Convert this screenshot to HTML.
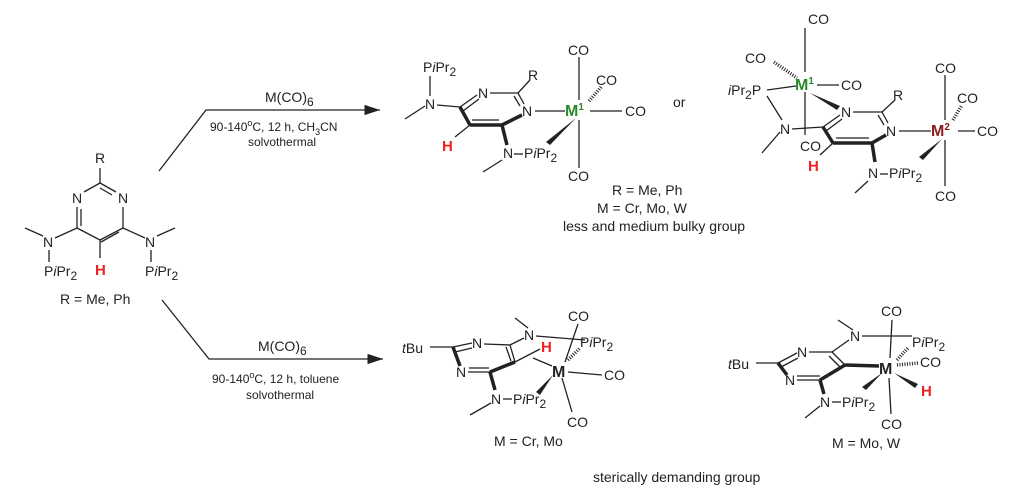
<!DOCTYPE html>
<html><head><meta charset="utf-8"><style>
html,body{margin:0;padding:0;background:#fff;}
svg{display:block;font-family:"Liberation Sans",sans-serif;}
text{font-size:14px;fill:#222;}
.s{font-size:12px;}
.g{fill:#2a8a2a;font-weight:bold;font-size:16px;}
.r{fill:#8b1a1a;font-weight:bold;font-size:16px;}
.h{fill:#ee2222;font-weight:bold;font-size:15px;}
.m{font-weight:bold;font-size:16px;}
line,polyline{stroke:#222;stroke-width:1.3;fill:none;}
.b{stroke-width:3.5;}
.d{stroke-dasharray:1,1.5;stroke-width:3.5;}
</style></head><body>
<svg width="1024" height="501" viewBox="0 0 1024 501">
<defs><marker id="ar" markerWidth="12" markerHeight="8" refX="12" refY="4" orient="auto"><path d="M0,0 L12,4 L0,8 Z" fill="#222"/></marker></defs>

<!-- starting material -->
<text x="95" y="163">R</text>
<line x1="100" y1="168" x2="100" y2="183"/>
<line x1="100" y1="183" x2="84" y2="192"/><line x1="100" y1="183" x2="116" y2="192"/><line x1="100" y1="188" x2="112" y2="195"/>
<text x="72" y="203">N</text><text x="118" y="203">N</text>
<line x1="77" y1="207" x2="77" y2="228"/><line x1="81" y1="209" x2="81" y2="226"/>
<line x1="123" y1="207" x2="123" y2="228"/>
<line x1="77" y1="228" x2="100" y2="240"/><line x1="123" y1="228" x2="100" y2="240"/><line x1="119" y1="232" x2="101" y2="242"/>
<line x1="77" y1="228" x2="55" y2="238"/><line x1="123" y1="228" x2="145" y2="238"/>
<text x="43" y="247">N</text><text x="145" y="247">N</text>
<line x1="43" y1="236" x2="25" y2="228"/><line x1="157" y1="236" x2="175" y2="228"/>
<line x1="49" y1="250" x2="49" y2="262"/><line x1="151" y1="250" x2="151" y2="262"/>
<text x="44" y="276">P<tspan font-style="italic">i</tspan>Pr<tspan class="s" dy="4">2</tspan></text>
<text x="145" y="276">P<tspan font-style="italic">i</tspan>Pr<tspan class="s" dy="4">2</tspan></text>
<line x1="100" y1="240" x2="100" y2="258"/>
<text class="h" x="95" y="275">H</text>
<text x="60" y="304">R = Me, Ph</text>

<!-- arrows -->
<polyline points="159,171 206,110 380,110" marker-end="url(#ar)"/>
<text x="265" y="102">M(CO)<tspan class="s" dy="4">6</tspan></text>
<text x="210" y="131" class="s">90-140<tspan dy="-5" font-size="9">o</tspan><tspan dy="5">C, 12 h, CH</tspan><tspan dy="4" font-size="9">3</tspan><tspan dy="-4">CN</tspan></text>
<text x="248" y="146" class="s">solvothermal</text>
<polyline points="162,300 209,359 383,359" marker-end="url(#ar)"/>
<text x="258" y="351">M(CO)<tspan class="s" dy="4">6</tspan></text>
<text x="212" y="383" class="s">90-140<tspan dy="-5" font-size="9">o</tspan><tspan dy="5">C, 12 h, toluene</tspan></text>
<text x="246" y="399" class="s">solvothermal</text>

<!-- top product 1 -->
<text x="423" y="72">P<tspan font-style="italic">i</tspan>Pr<tspan class="s" dy="4">2</tspan></text>
<line x1="430" y1="76" x2="430" y2="96"/>
<text x="425" y="109">N</text>
<line x1="425" y1="106" x2="405" y2="119"/>
<line x1="437" y1="105" x2="460" y2="107"/>
<line x1="460" y1="107" x2="477" y2="95"/><line x1="463" y1="111" x2="479" y2="99"/>
<text x="478" y="98">N</text>
<line x1="490" y1="93" x2="518" y2="93"/>
<line x1="518" y1="93" x2="530" y2="80"/><text x="528" y="80">R</text>
<line x1="518" y1="93" x2="524" y2="104"/><line x1="514" y1="96" x2="520" y2="106"/>
<text x="522" y="116">N</text>
<line x1="535" y1="111" x2="565" y2="111"/>
<line x1="522" y1="115" x2="502" y2="125" class="b"/>
<line x1="502" y1="125" x2="470" y2="125" class="b"/><line x1="499" y1="120" x2="472" y2="120"/>
<line x1="460" y1="107" x2="470" y2="125" class="b"/>
<line x1="470" y1="125" x2="455" y2="137"/>
<text class="h" x="442" y="151">H</text>
<line x1="502" y1="125" x2="507" y2="145" class="b"/>
<text x="503" y="158">N</text>
<line x1="502" y1="160" x2="483" y2="172"/>
<line x1="514" y1="154" x2="523" y2="154"/>
<text x="524" y="158">P<tspan font-style="italic">i</tspan>Pr<tspan class="s" dy="4">2</tspan></text>
<text class="g" x="565" y="116">M<tspan font-size="10" dy="-6">1</tspan></text>
<line x1="579" y1="57" x2="579" y2="100"/><line x1="579" y1="120" x2="579" y2="168"/>
<text x="568" y="55">CO</text>
<line x1="589" y1="101" x2="602" y2="86" class="d"/>
<text x="596" y="85">CO</text>
<line x1="590" y1="111" x2="622" y2="111"/><text x="625" y="116">CO</text>
<polygon points="576,118 546,142 550,145" fill="#222"/>
<text x="568" y="181">CO</text>
<text x="673" y="107">or</text>
<text x="612" y="195">R = Me, Ph</text>
<text x="597" y="213">M = Cr, Mo, W</text>
<text x="563" y="231">less and medium bulky group</text>

<!-- top product 2 -->
<text x="808" y="24">CO</text>
<line x1="805" y1="28" x2="805" y2="72"/>
<line x1="805" y1="92" x2="805" y2="135"/>
<text x="745" y="63">CO</text>
<line x1="774" y1="62" x2="797" y2="78" class="d"/>
<text class="g" x="795" y="90">M<tspan font-size="10" dy="-6">1</tspan></text>
<line x1="817" y1="85" x2="839" y2="85"/><text x="841" y="90">CO</text>
<text x="728" y="95"><tspan font-style="italic">i</tspan>Pr<tspan class="s" dy="4">2</tspan><tspan dy="-4">P</tspan></text>
<line x1="767" y1="90" x2="796" y2="86"/>
<line x1="767" y1="96" x2="782" y2="120"/>
<polygon points="810,93 840,106 837,110" fill="#222"/>
<text x="780" y="134">N</text>
<line x1="780" y1="132" x2="762" y2="153"/>
<line x1="792" y1="129" x2="823" y2="127"/>
<text x="800" y="151">CO</text>
<line x1="823" y1="127" x2="840" y2="115"/><line x1="826" y1="131" x2="842" y2="119"/>
<text x="841" y="117">N</text>
<line x1="853" y1="112" x2="882" y2="112"/>
<line x1="882" y1="112" x2="895" y2="100"/><text x="893" y="100">R</text>
<line x1="882" y1="112" x2="888" y2="123"/><line x1="878" y1="115" x2="884" y2="125"/>
<text x="886" y="136">N</text>
<line x1="899" y1="131" x2="931" y2="131"/>
<line x1="886" y1="135" x2="872" y2="143" class="b"/>
<line x1="872" y1="143" x2="833" y2="143" class="b"/><line x1="869" y1="138" x2="836" y2="138"/>
<line x1="823" y1="127" x2="833" y2="143" class="b"/>
<line x1="833" y1="143" x2="820" y2="155"/>
<text class="h" x="808" y="171">H</text>
<line x1="872" y1="143" x2="875" y2="162" class="b"/>
<text x="868" y="178">N</text>
<line x1="868" y1="181" x2="855" y2="193"/>
<line x1="880" y1="174" x2="888" y2="174"/>
<text x="889" y="178">P<tspan font-style="italic">i</tspan>Pr<tspan class="s" dy="4">2</tspan></text>
<text class="r" x="931" y="136">M<tspan font-size="10" dy="-6">2</tspan></text>
<line x1="945" y1="75" x2="945" y2="120"/><line x1="945" y1="140" x2="945" y2="186"/>
<text x="935" y="73">CO</text>
<line x1="953" y1="120" x2="962" y2="105" class="d"/>
<text x="957" y="103">CO</text>
<line x1="958" y1="131" x2="975" y2="131"/><text x="977" y="136">CO</text>
<polygon points="942,139 919,157 923,160" fill="#222"/>
<text x="935" y="201">CO</text>

<!-- bottom product 1 -->
<text x="402" y="353"><tspan font-style="italic">t</tspan>Bu</text>
<line x1="430" y1="347" x2="453" y2="347"/>
<line x1="453" y1="347" x2="472" y2="343"/><line x1="455" y1="352" x2="472" y2="348"/>
<text x="472" y="348">N</text>
<line x1="484" y1="344" x2="510" y2="345"/>
<line x1="453" y1="347" x2="460" y2="366" class="b"/>
<text x="456" y="377">N</text>
<line x1="468" y1="372" x2="490" y2="372"/><line x1="469" y1="368" x2="489" y2="368"/>
<line x1="490" y1="372" x2="515" y2="362" class="b"/>
<line x1="510" y1="345" x2="515" y2="362"/><line x1="506" y1="347" x2="511" y2="361"/>
<line x1="510" y1="345" x2="524" y2="338"/>
<text x="524" y="340">N</text>
<line x1="528" y1="328" x2="515" y2="318"/>
<line x1="536" y1="336" x2="585" y2="340"/>
<text x="580" y="347">P<tspan font-style="italic">i</tspan>Pr<tspan class="s" dy="4">2</tspan></text>
<line x1="515" y1="362" x2="540" y2="349"/>
<text class="h" x="541" y="352">H</text>
<text x="568" y="321">CO</text>
<line x1="578" y1="324" x2="565" y2="362"/>
<line x1="533" y1="358" x2="552" y2="366"/>
<text class="m" x="552" y="377">M</text>
<line x1="568" y1="360" x2="580" y2="348" class="d"/>
<line x1="568" y1="372" x2="602" y2="375"/><text x="604" y="380">CO</text>
<line x1="562" y1="378" x2="572" y2="412"/>
<text x="567" y="427">CO</text>
<polygon points="553,375 536,392 540,395" fill="#222"/>
<line x1="490" y1="372" x2="495" y2="390" class="b"/>
<text x="491" y="404">N</text>
<line x1="491" y1="403" x2="470" y2="415"/>
<line x1="503" y1="399" x2="512" y2="399"/>
<text x="513" y="404">P<tspan font-style="italic">i</tspan>Pr<tspan class="s" dy="4">2</tspan></text>
<text x="494" y="446">M = Cr, Mo</text>

<!-- bottom product 2 -->
<text x="728" y="369"><tspan font-style="italic">t</tspan>Bu</text>
<line x1="756" y1="363" x2="778" y2="363"/>
<line x1="778" y1="363" x2="797" y2="353"/><line x1="781" y1="367" x2="798" y2="358"/>
<text x="797" y="357">N</text>
<line x1="809" y1="352" x2="832" y2="352"/>
<line x1="778" y1="363" x2="787" y2="375" class="b"/>
<text x="785" y="385">N</text>
<line x1="797" y1="380" x2="820" y2="380"/><line x1="797" y1="376" x2="820" y2="376"/>
<line x1="820" y1="380" x2="845" y2="365" class="b"/>
<line x1="832" y1="352" x2="845" y2="365"/><line x1="829" y1="356" x2="840" y2="367"/>
<line x1="832" y1="352" x2="849" y2="340"/>
<text x="850" y="341">N</text>
<line x1="853" y1="330" x2="838" y2="320"/>
<line x1="862" y1="336" x2="912" y2="336"/>
<text x="912" y="347">P<tspan font-style="italic">i</tspan>Pr<tspan class="s" dy="4">2</tspan></text>
<text x="881" y="316">CO</text>
<line x1="892" y1="320" x2="890" y2="358"/>
<line x1="845" y1="365" x2="879" y2="366" class="b"/>
<text class="m" x="879" y="374">M</text>
<line x1="897" y1="360" x2="908" y2="348" class="d"/>
<line x1="897" y1="365" x2="918" y2="363" class="d"/>
<text x="920" y="367">CO</text>
<polygon points="894,373 918,384 915,388" fill="#222"/>
<text class="h" x="921" y="396">H</text>
<polygon points="882,373 862,387 866,390" fill="#222"/>
<line x1="889" y1="378" x2="891" y2="414"/>
<text x="881" y="429">CO</text>
<line x1="820" y1="380" x2="824" y2="394" class="b"/>
<text x="820" y="407">N</text>
<line x1="820" y1="406" x2="805" y2="418"/>
<line x1="832" y1="402" x2="841" y2="402"/>
<text x="842" y="407">P<tspan font-style="italic">i</tspan>Pr<tspan class="s" dy="4">2</tspan></text>
<text x="832" y="448">M = Mo, W</text>
<text x="593" y="482">sterically demanding group</text>
</svg>
</body></html>
